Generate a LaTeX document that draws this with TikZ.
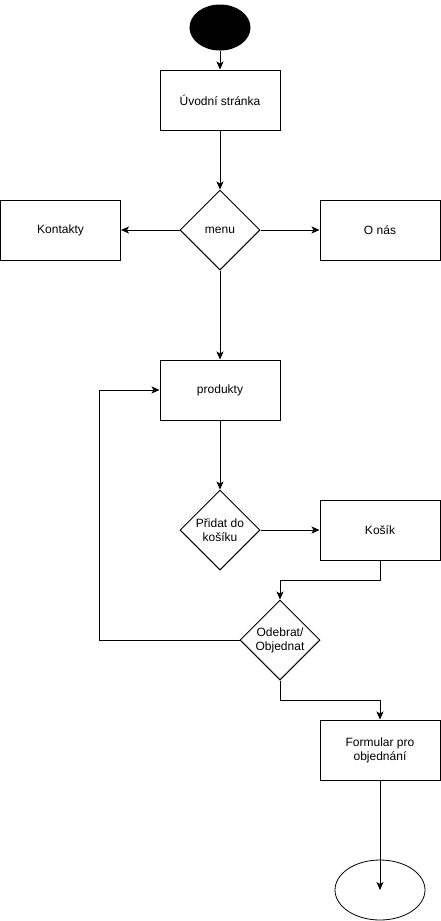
\documentclass[tikz,border=0pt]{standalone}
\usepackage{fontspec}
\setmainfont{Liberation Sans}
\usetikzlibrary{arrows.meta,shapes.geometric}

\tikzset{
  box/.style={draw, line width=1pt, minimum width=120pt, minimum height=60pt, inner sep=0pt, align=center, font=\fontsize{12}{14}\selectfont},
  choice/.style={draw, diamond, aspect=1, minimum size=80pt, inner sep=0pt, line width=1pt, align=center, font=\fontsize{12}{14}\selectfont},
  flow/.style={line width=1pt, -{Stealth[length=8pt,width=7pt,inset=2pt]}}
}

\begin{document}
\begin{tikzpicture}[x=1pt,y=-1pt]
		%%%%% START %%%%%
		\useasboundingbox (0,0) rectangle (441,921);
		
		\node[ellipse, draw, fill=black, line width=1pt, minimum width=60pt, minimum height=45pt] (start) at (220,27.5) {};
		\node[box] (home) at (220,100) {Úvodní stránka};
		
		\node[choice] (menu) at (220,230) {menu};
		\node[box] (contacts) at (60.5,230) {Kontakty};
		\node[box] (about) at (380,230) {O nás};
		
		\node[box] (products) at (220,390) {produkty};
		\node[choice] (add) at (220,530) {Přidat do\\košíku};
		\node[box] (cart) at (380,530) {Košík};
		\node[choice] (order) at (280,640) {Odebrat/\\Objednat};
		
		\node[box] (form) at (380,750) {Formular pro\\objednání};
		\node[ellipse, draw, line width=0.8pt, minimum width=90pt, minimum height=60pt] (stop) at (380,890) {};
		
		\draw[flow] (start) -- (home);
		\draw[flow] (home) -- (menu);
		\draw[flow] (menu) -- (contacts);
		\draw[flow] (menu) -- (about);
		\draw[flow] (menu) -- (products);
		\draw[flow] (products) -- (add);
		\draw[flow] (add) -- (cart);
		\draw[flow] (cart.south) -- ++(0,20) -| (order.north);
		\draw[flow] (order.west) -- ++(-140,0) |- (products.west);
		\draw[flow] (order.south) -- ++(0,20) -| (form.north);
		\draw[flow] (form) -- (stop.center);
		%%%%% END %%%%%
\end{tikzpicture}
\end{document}
